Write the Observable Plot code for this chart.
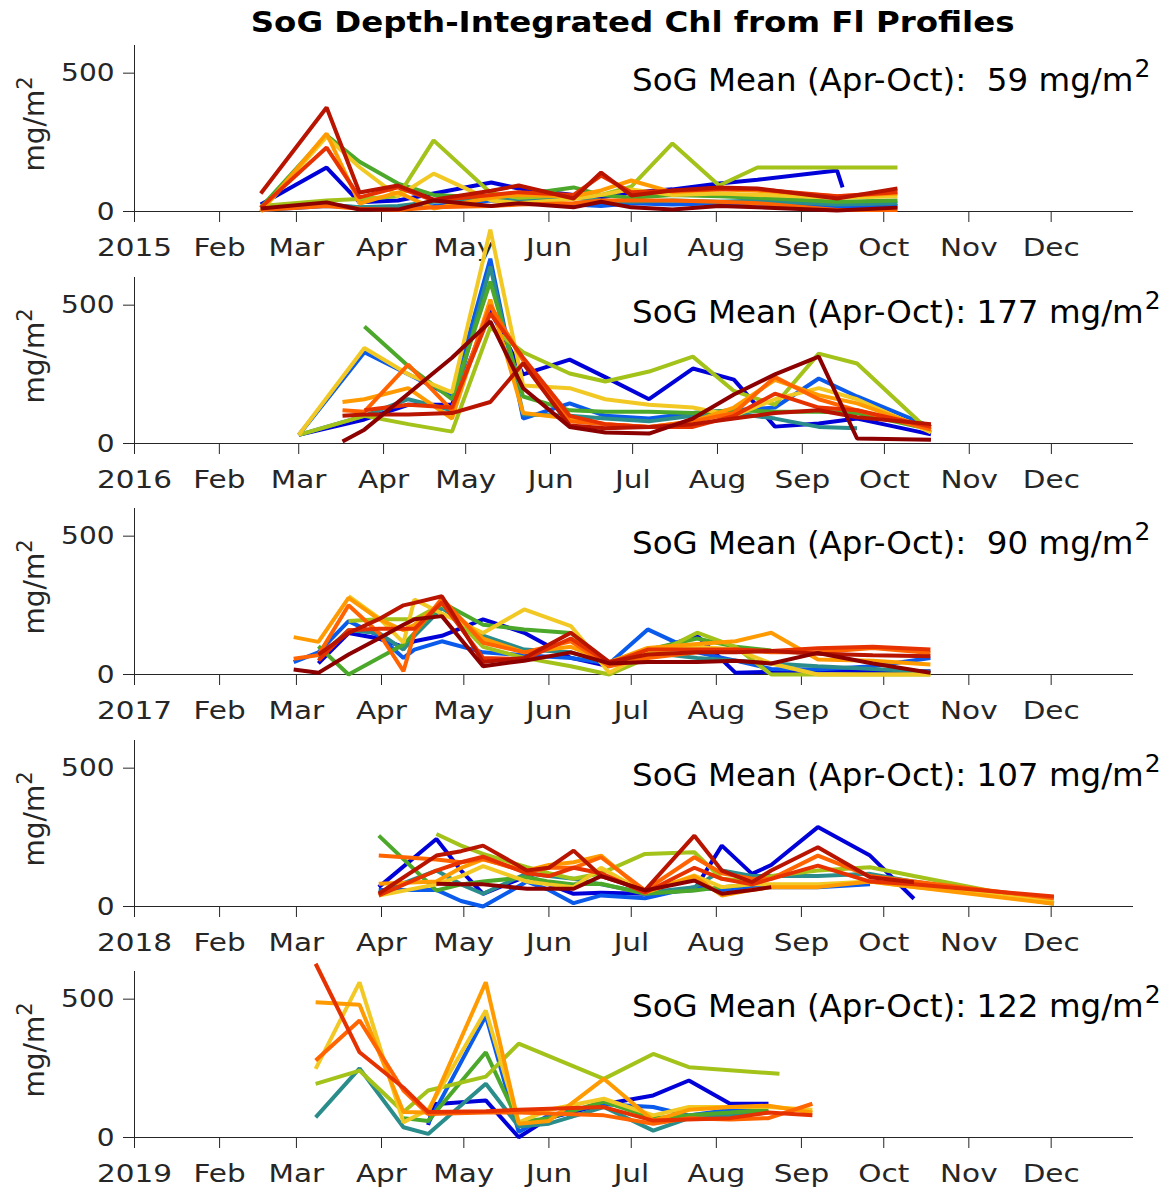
<!DOCTYPE html>
<html><head><meta charset="utf-8">
<script src="https://cdn.jsdelivr.net/npm/d3@7"></script>
<script src="https://cdn.jsdelivr.net/npm/@observablehq/plot@0.6"></script>
<style>
body{margin:0;background:#fff;font-family:"DejaVu Sans",sans-serif;}
#title{height:35px;box-sizing:border-box;width:1166px;padding-left:100px;padding-top:8px;text-align:center;line-height:28px;overflow:visible;white-space:nowrap;}
#title span{display:inline-block;font-weight:bold;font-size:27.5px;color:#000;transform:scaleX(1.18);transform-origin:50% 50%;}
svg{display:block}
</style></head><body>
<div id="title"><span>SoG Depth-Integrated Chl from Fl Profiles</span></div>
<div id="charts"></div>
<script>
const n = null;
const years = [2015, 2016, 2017, 2018, 2019];
const means = [59, 177, 90, 107, 122];
const monthNames = ["Jan","Feb","Mar","Apr","May","Jun","Jul","Aug","Sep","Oct","Nov","Dec"];
const palette = ["#0000d9","#0a5aeb","#2b8c8c","#4ca82a","#a3c21a","#f2c924","#ff9b00","#ff6400","#e63200","#b81400","#8c0000"];

// day of year (0 = Jan 1) of each cruise
const days2015 = [46, 70, 82, 96, 109, 130, 140, 160, 170, 181, 196, 213, 227, 256, 258, 278];
const chl2015 = [
  [25, 159, 33, 40, 65, 105, 83, 60, 51, 69, 80, 101, 115, 148, 87, n],
  [5, 20, 15, 10, 20, 40, 30, 25, 20, 30, 25, 30, 30, 15, n, 20],
  [10, 25, 15, 20, 35, 45, 40, 50, 40, 35, 40, 35, 40, 25, n, 30],
  [14, 275, 180, 101, 60, 50, 60, 87, 60, 50, 60, 55, 50, 35, n, 40],
  [20, 40, 45, 55, 257, 65, 50, 60, 60, 90, 246, 94, 159, 159, n, 159],
  [0, 270, 160, 55, 137, 40, 30, 45, 60, 80, 60, 65, 60, 50, n, 55],
  [0, 282, 29, 69, 11, 50, 60, 55, 76, 112, 70, 80, 75, 55, n, 65],
  [5, 20, 10, 5, 15, 20, 25, 30, 40, 40, 40, 35, 30, 5, n, 5],
  [14, 231, 51, 87, 40, 60, 70, 60, 130, 70, 75, 80, 80, 55, n, 70],
  [65, 376, 69, 94, 43, 75, 94, 47, 141, 58, 76, 87, 83, 47, n, 83],
  [11, 33, 7, 7, 40, 20, 30, 15, 35, 15, 7, 20, 15, 4, n, 14]
];

const days2016 = [60, 76, 84, 100, 116, 130, 142, 159, 172, 188, 204, 219, 234, 250, 264, 291];
const chl2016 = [
  [31, n, 87, 140, 141, 480, 250, 303, 240, 160, 271, 231, 61, 72, 90, 33],
  [31, n, 330, 250, 170, 668, 90, 145, 100, 90, 110, 120, 130, 235, 170, 60],
  [31, n, 100, 160, 120, 640, 105, 100, 90, 80, 100, 110, 90, 60, 55, n],
  [n, n, 423, 280, 160, 585, 170, 120, 115, 115, 110, 120, 115, 115, 110, 50],
  [31, n, 100, 70, 43, 420, 330, 253, 224, 260, 314, 190, 140, 325, 289, 40],
  [31, n, 345, 250, 185, 773, 210, 200, 160, 140, 130, 100, 160, 200, 160, 40],
  [n, 150, 160, 200, 90, 520, 110, 90, 70, 60, 80, 130, 230, 175, 145, 50],
  [n, 120, 115, 285, 120, 500, 300, 80, 70, 60, 80, 110, 240, 160, 120, 50],
  [n, n, 120, 140, 130, 470, 310, 100, 70, 60, 60, 100, 180, 130, 120, 60],
  [n, 100, 105, 105, 110, 150, 290, 65, 55, 60, 70, 90, 110, 120, 95, 70],
  [n, 7, 50, 180, 310, 441, 200, 60, 40, 36, 90, 177, 250, 314, 18, 14]
];

const days2017 = [58, 67, 78, 89, 98, 102, 112, 127, 142, 159, 173, 187, 205, 219, 232, 249, 269, 290];
const chl2017 = [
  [n, 40, 150, 130, 100, 120, 140, 199, 151, 60, 30, 80, 140, 6, 10, 15, 12, 12],
  [45, 80, 193, 140, 60, 90, 120, 80, 70, 60, 40, 163, 80, 50, 20, 18, 30, 60],
  [n, 60, 160, 150, 90, 140, 240, 140, 90, 80, 40, 80, 60, 50, 40, 30, 20, 10],
  [n, 102, 0, 60, 108, 150, 260, 180, 163, 150, 40, 90, 130, 100, 87, n, n, n],
  [n, n, 193, 200, 200, 200, 254, 100, 60, 30, 0, 60, 151, 100, 0, 0, 0, 0],
  [n, n, 283, 205, 115, 271, 220, 150, 235, 175, 6, 80, 100, 90, 40, 0, 0, 0],
  [135, 118, 277, 200, 160, 180, 260, 130, 80, 100, 45, 96, 110, 120, 151, 54, 50, 36],
  [57, 70, 250, 150, 12, 150, 275, 115, 80, 120, 30, 60, 80, 90, 80, 80, 96, 78],
  [n, 50, 160, 165, 165, 165, 260, 60, 55, 130, 40, 90, 90, 90, 85, 95, 100, 90],
  [n, 72, 150, 200, 250, 259, 283, 45, 60, 151, 45, 72, 80, 80, 85, 75, 70, 66],
  [18, 6, 72, 130, 180, 200, 211, 30, 50, 80, 40, 45, 45, 50, 40, 78, 40, 6]
];

const days2018 = [89, 110, 119, 127, 143, 151, 160, 170, 186, 204, 214, 225, 232, 249, 268, 284, 335];
const chl2018 = [
  [70, 244, 130, 46, 110, 80, 46, 50, 46, 60, 220, 118, 150, 287, 184, 28, n],
  [60, 60, 20, 0, 90, 60, 12, 40, 30, 70, 60, 70, 70, 70, 80, n, n],
  [50, 130, 80, 46, 120, 110, 100, 80, 50, 70, 130, 110, 110, 110, 118, 90, 10],
  [256, 58, 80, 90, 106, 90, 80, 82, 46, 58, 70, 80, n, n, n, n, n],
  [n, 262, 220, 190, 142, 120, 100, 120, 190, 196, 100, 90, 110, 130, 142, 110, 12],
  [40, 80, 110, 146, 90, 80, 70, 140, 50, 112, 70, 80, 80, 80, 90, 70, 24],
  [82, 90, 140, 170, 130, 150, 160, 184, 50, 110, 40, 60, 70, 70, 90, 70, 10],
  [184, 170, 160, 172, 124, 140, 140, 178, 58, 178, 120, 100, 100, 184, 110, 90, 30],
  [40, 130, 160, 180, 120, 110, 140, 120, 50, 140, 100, 80, 100, 148, 90, 80, 36],
  [46, 184, 200, 220, 130, 140, 202, 110, 58, 256, 130, 88, 130, 214, 106, 88, n],
  [n, 82, 80, 80, 64, 64, 64, 110, 58, 94, 46, 60, 70, n, n, n, n]
];

const days2019 = [66, 82, 98, 107, 109, 128, 140, 151, 171, 189, 202, 217, 231, 235, 247];
const chl2019 = [
  [n, n, n, 45, 120, 134, 1, 70, 120, 152, 206, 122, 122, n, n],
  [n, n, n, 50, n, 440, 20, 80, 120, 110, 80, 100, 110, n, n],
  [73, 250, 37, 13, n, 194, 40, 50, 110, 25, 70, 80, 90, n, n],
  [n, n, 70, 60, n, 308, 55, 70, 130, 70, 80, 90, 100, n, n],
  [194, 242, 92, 170, n, 220, 339, n, 212, 302, 254, n, n, 230, n],
  [248, 561, 55, 100, n, 459, 55, 100, 140, 80, 110, 110, 110, n, 100],
  [489, 480, 92, 90, n, 561, 50, 60, 212, 61, 100, 110, 115, n, 90],
  [278, 423, 170, 85, n, 90, 90, n, 80, 50, 70, 65, 70, n, 122],
  [628, 308, 180, 92, n, 95, 100, n, 110, 61, n, 70, 90, n, 80],
  null,
  null
];

const allDays = [days2015, days2016, days2017, days2018, days2019];
const allChl = [chl2015, chl2016, chl2017, chl2018, chl2019];

const holder = document.getElementById("charts");

function stretch(el, sx, origin) {
  const g = document.createElementNS("http://www.w3.org/2000/svg", "g");
  el.parentNode.insertBefore(g, el);
  g.appendChild(el);
  g.style.transformBox = "fill-box";
  g.style.transformOrigin = origin;
  g.style.transform = `scaleX(${sx})`;
}

years.forEach((year, k) => {
  const days = allDays[k], values = allChl[k];
  const rows = [];
  values.forEach((series, s) => {
    if (!series) return;
    series.forEach((v, i) => {
      if (v != null) rows.push({station: s, date: new Date(Date.UTC(year, 0, 1 + days[i])), value: v});
    });
  });
  const x0 = new Date(Date.UTC(year, 0, 1)), x1 = new Date(Date.UTC(year, 11, 31));
  const ticks = d3.utcMonths(x0, x1);
  const mt = 10;
  const svg = Plot.plot({
    width: 1166, height: 231.5,
    marginLeft: 134, marginRight: 33, marginTop: mt, marginBottom: 55.5,
    style: {fontFamily: "DejaVu Sans", fontSize: "25px", color: "#262626", background: "transparent", overflow: "visible"},
    x: {type: "utc", domain: [x0, x1], ticks, tickFormat: d => d.getUTCMonth() === 0 ? String(year) : monthNames[d.getUTCMonth()], tickSize: 11, tickPadding: 16, label: null},
    y: {domain: [0, 600], ticks: [0, 500], tickSize: 11, tickPadding: 9, label: null},
    color: {type: "ordinal", domain: d3.range(11), range: palette},
    marks: [
      Plot.ruleY([0], {stroke: "#262626", strokeWidth: 1}),
      Plot.ruleX([x0], {y1: 0, y2: 600, stroke: "#262626", strokeWidth: 1}),
      Plot.line(rows, {x: "date", y: "value", z: "station", stroke: "station", strokeWidth: 4, strokeLinejoin: "miter", strokeLinecap: "butt"})
    ]
  });
  const s = d3.select(svg);
  s.selectAll('g[aria-label="x-axis tick label"] text').each(function() { stretch(this, 1.18, "50% 50%"); });
  s.selectAll('g[aria-label="y-axis tick label"] text').each(function() { stretch(this, 1.12, "100% 50%"); });
  const t = s.append("text").attr("x", 632).attr("y", mt + 46).attr("text-anchor", "start")
    .attr("font-size", 32.5).attr("font-family", "DejaVu Sans").attr("fill", "#000").style("white-space", "pre");
  t.append("tspan").text("SoG Mean (Apr-Oct): " + String(means[k]).padStart(3, " ") + " mg/m");
  t.append("tspan").attr("dx", 1).attr("dy", -14).attr("font-size", 25).text("2");
  const yl = s.append("text").attr("transform", `translate(44, ${mt + 79}) rotate(-90)`)
    .attr("text-anchor", "middle").attr("font-size", 28).attr("font-family", "DejaVu Sans").attr("fill", "#262626");
  yl.append("tspan").text("mg/m");
  yl.append("tspan").attr("dy", -12).attr("font-size", 21).text("2");
  holder.appendChild(svg);
});
</script></body></html>
